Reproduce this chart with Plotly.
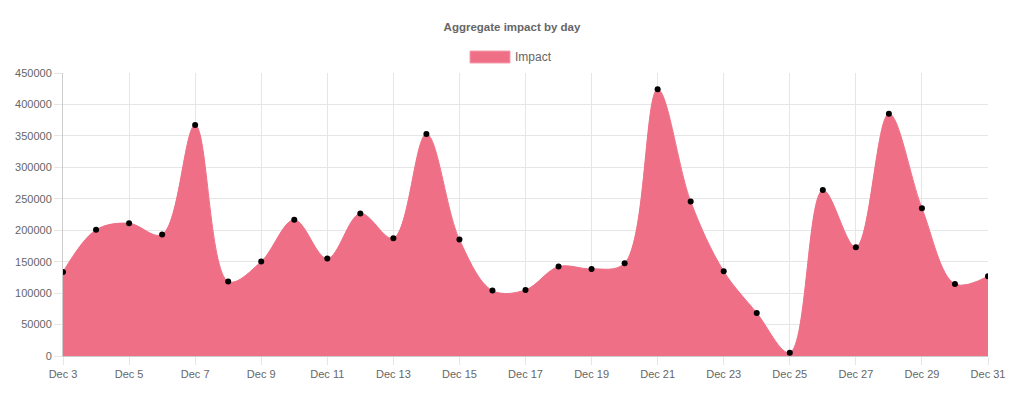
import plotly.graph_objects as go

days = [f"Dec {d}" for d in range(3, 32)]
impact = [133700, 200600, 211000, 193200, 367200, 118300, 150200, 216500, 155000,
          226600, 187300, 352900, 185200, 104000, 105100, 142200, 138500, 147500,
          424000, 245700, 134800, 68500, 5300, 263800, 173000, 385300, 235100,
          114600, 126800]
tick_labels = days[::2]
y_ticks = list(range(0, 450001, 50000))

FILL = "#EE6F86"
TEXT = "#666666"
GRID = "#e6e6e6"
FONT = "Helvetica Neue, Helvetica, Liberation Sans, Arial, sans-serif"

W, H = 1024, 397
ML, MR, MT, MB = 63, 36, 73, 41
PW, PH = W - ML - MR, H - MT - MB

def px_x(x):
    return (x - ML) / PW

def px_y(y):
    return 1 + (MT - y) / PH

fig = go.Figure()
fig.add_trace(go.Scatter(
    x=days, y=impact, mode="lines+markers", name="Impact",
    line=dict(shape="spline", smoothing=1.0, color=FILL, width=1),
    fill="tozeroy", fillcolor=FILL,
    marker=dict(color="black", size=6),
    showlegend=False, hoverinfo="skip",
))

fig.update_layout(
    width=W, height=H,
    margin=dict(l=ML, r=MR, t=MT, b=MB),
    paper_bgcolor="white", plot_bgcolor="white",
    font=dict(family=FONT, size=11, color=TEXT),
    title=dict(text="<b>Aggregate impact by day</b>", x=0.5, xanchor="center",
               y=1 - 27 / H, yanchor="middle", yref="container",
               font=dict(size=11.5, color=TEXT, family=FONT)),
    xaxis=dict(
        type="category", range=[0, len(days) - 1],
        tickvals=tick_labels, ticktext=tick_labels,
        showgrid=True, gridcolor=GRID, gridwidth=1,
        ticks="outside", ticklen=8, tickcolor=GRID,
        showline=True, linecolor="#cccccc", linewidth=1,
        tickfont=dict(size=11, color=TEXT),
        zeroline=False, fixedrange=True,
    ),
    yaxis=dict(
        range=[0, 450000], tickvals=y_ticks, tickformat="d",
        showgrid=True, gridcolor=GRID, gridwidth=1,
        ticks="outside", ticklen=8, tickcolor=GRID,
        showline=True, linecolor="#cccccc", linewidth=1,
        tickfont=dict(size=11, color=TEXT),
        zeroline=False, fixedrange=True,
    ),
    shapes=[dict(type="rect", xref="paper", yref="paper",
                 x0=px_x(470), x1=px_x(510), y0=px_y(63), y1=px_y(51),
                 fillcolor=FILL, line=dict(color="#f3a0b0", width=1))],
    annotations=[dict(text="Impact", xref="paper", yref="paper",
                      x=px_x(513), y=px_y(57), xanchor="left", yanchor="middle",
                      showarrow=False, font=dict(size=12, color=TEXT, family=FONT))],
)

fig.write_html("out.html", config={"displayModeBar": False},
               post_script="document.body.style.margin='0';document.body.style.overflow='hidden';")
